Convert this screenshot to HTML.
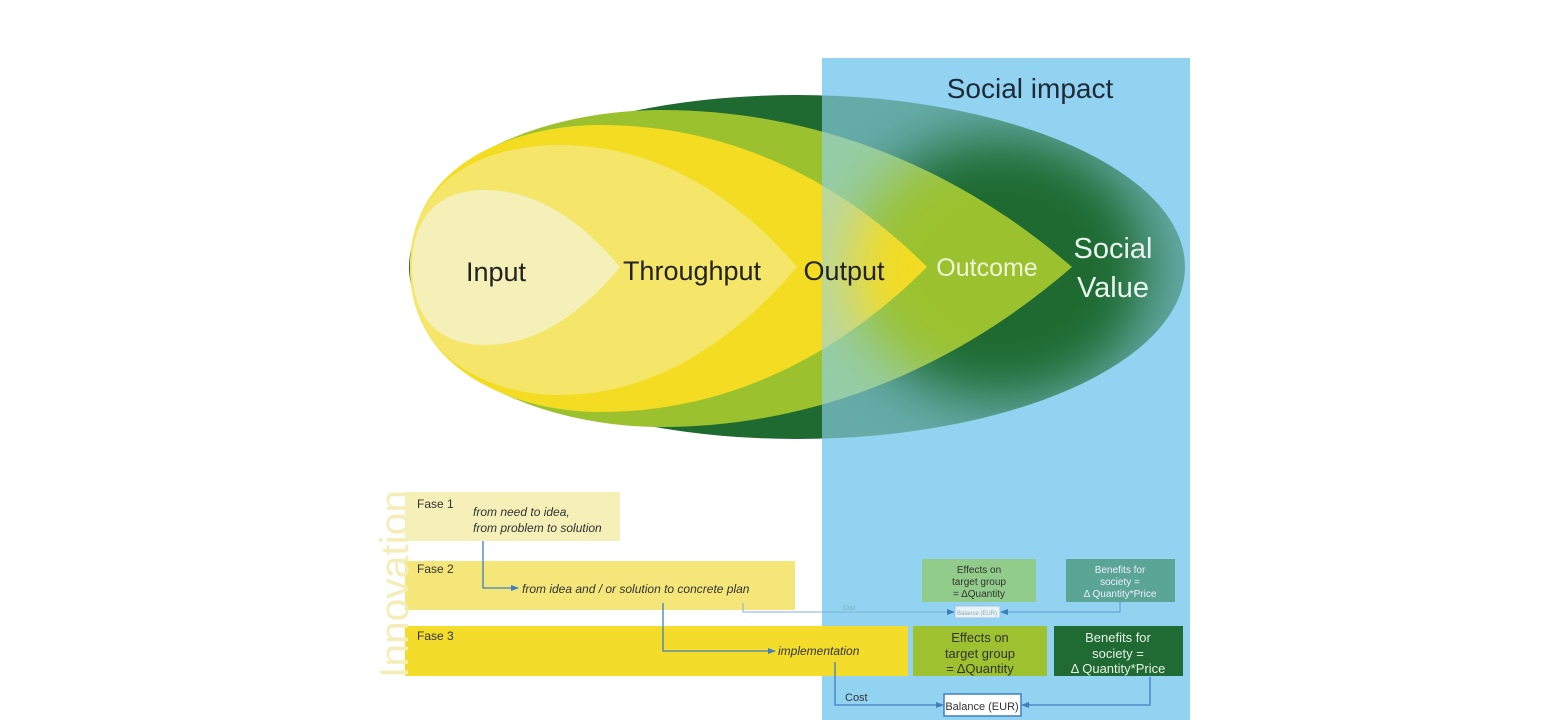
<!DOCTYPE html>
<html><head><meta charset="utf-8"><style>
html,body{margin:0;padding:0;background:#fff;}
svg{display:block;}
text{font-family:"Liberation Sans",sans-serif;}
</style></head><body>
<svg width="1560" height="720" viewBox="0 0 1560 720" xmlns="http://www.w3.org/2000/svg">
<defs>
<filter id="bl" x="-50%" y="-50%" width="200%" height="200%"><feGaussianBlur stdDeviation="28"/></filter>
<clipPath id="ec"><ellipse cx="797" cy="267" rx="388" ry="172"/></clipPath>
<mask id="m" maskUnits="userSpaceOnUse" x="0" y="0" width="1560" height="720">
<rect x="0" y="0" width="1560" height="720" fill="#fff"/>
<g clip-path="url(#ec)"><ellipse cx="1000" cy="268" rx="150" ry="130" fill="#000" filter="url(#bl)"/></g>
</mask>
<marker id="ar" markerWidth="8" markerHeight="8" refX="7" refY="4" orient="auto" markerUnits="userSpaceOnUse"><path d="M0,1 L8,4 L0,7 Z" fill="#3f7fc0"/></marker>
</defs>
<rect x="822" y="58" width="368" height="662" fill="#92d3f2"/>
<!-- ellipse layers -->
<ellipse cx="797" cy="267" rx="388" ry="172" fill="#1e6a30"/>
<path d="M410,267 C410,150 560,110 660,110 C820,110 960,170 1072,267 C960,364 820,427 660,427 C560,427 410,384 410,267 Z" fill="#9bc22e"/>
<path d="M410,267 C410,160 520,125 600,125 C730,125 840,180 927,267 C840,354 730,412 600,412 C520,412 410,374 410,267 Z" fill="#f3dc22"/>
<path d="M410,267 C410,175 490,145 560,145 C660,145 740,200 797,267 C740,334 660,395 560,395 C490,395 410,359 410,267 Z" fill="#f5e66a"/>
<path d="M412,267 C412,215 440,190 485,190 C540,190 585,225 620,267 C585,309 540,345 485,345 C440,345 412,319 412,267 Z" fill="#f5efb8"/>
<!-- blue overlay -->
<rect x="822" y="58" width="368" height="662" fill="#92d3f2" opacity="0.62" mask="url(#m)"/>
<text x="1030" y="98" font-size="28" fill="#1e2a36" text-anchor="middle">Social impact</text>
<text x="496" y="281" font-size="27" fill="#222" text-anchor="middle">Input</text>
<text x="692" y="280" font-size="27" fill="#222" text-anchor="middle">Throughput</text>
<text x="844" y="280" font-size="27" fill="#222" text-anchor="middle">Output</text>
<text x="987" y="276" font-size="25" fill="#eef6d8" text-anchor="middle">Outcome</text>
<text x="1113" y="258" font-size="29" fill="#e8f4ee" text-anchor="middle">Social</text>
<text x="1113" y="297" font-size="29" fill="#e8f4ee" text-anchor="middle">Value</text>
<!-- innovation -->
<rect x="405" y="492" width="215" height="49" fill="#f5efb8"/>
<rect x="405" y="561" width="390" height="49" fill="#f5e67a"/>
<rect x="405" y="626" width="503" height="50" fill="#f3dc2a"/>
<text transform="translate(408,678) rotate(-90)" font-size="40" fill="#f5edb8" textLength="188" lengthAdjust="spacingAndGlyphs">Innovation</text>
<g font-size="12" fill="#333">
<text x="417" y="508">Fase 1</text>
<text x="417" y="573">Fase 2</text>
<text x="417" y="640">Fase 3</text>
<text x="473" y="516" font-style="italic">from need to idea,</text>
<text x="473" y="532" font-style="italic">from problem to solution</text>
<text x="522" y="593" font-style="italic">from idea and / or solution to concrete plan</text>
<text x="778" y="655" font-style="italic">implementation</text>
</g>
<!-- right boxes -->
<rect x="922" y="559" width="114" height="43" fill="#92cc8a"/>
<rect x="1066" y="559" width="109" height="43" fill="#5aa596"/>
<g font-size="10" text-anchor="middle">
<text x="979" y="573" fill="#333">Effects on</text>
<text x="979" y="585" fill="#333">target group</text>
<text x="979" y="597" fill="#333">= ΔQuantity</text>
<text x="1120" y="573" fill="#eef">Benefits for</text>
<text x="1120" y="585" fill="#eef">society =</text>
<text x="1120" y="597" fill="#eef">Δ Quantity*Price</text>
</g>
<rect x="955" y="606" width="45" height="12" fill="#e8f4fa" stroke="#9cc3e0"/>
<text x="977" y="615" font-size="6" fill="#8aa" text-anchor="middle">Balance (EUR)</text>
<text x="843" y="610" font-size="6" fill="#7aa">Cost</text>
<rect x="913" y="626" width="134" height="50" fill="#9dc12f"/>
<rect x="1054" y="626" width="129" height="50" fill="#1f6b33"/>
<g font-size="13" text-anchor="middle">
<text x="980" y="642" fill="#333">Effects on</text>
<text x="980" y="658" fill="#333">target group</text>
<text x="980" y="673" fill="#333">= ΔQuantity</text>
<text x="1118" y="642" fill="#e6f0e6">Benefits for</text>
<text x="1118" y="658" fill="#e6f0e6">society =</text>
<text x="1118" y="673" fill="#e6f0e6">Δ Quantity*Price</text>
</g>
<rect x="944" y="694" width="77" height="22" fill="#fff" stroke="#3f7fc0" stroke-width="1.5"/>
<text x="982" y="710" font-size="11" fill="#333" text-anchor="middle">Balance (EUR)</text>
<text x="845" y="701" font-size="11" fill="#333">Cost</text>
<!-- connectors -->
<g fill="none" stroke="#3f7fc0" stroke-width="1.3">
<path d="M483,541 V588 H518" marker-end="url(#ar)"/>
<path d="M663,603 V651 H775" marker-end="url(#ar)"/>
<path d="M835,662 V705 H943" marker-end="url(#ar)"/>
<path d="M1150,677 V705 H1022" marker-end="url(#ar)"/>
<path d="M743,603 V612 H954" stroke="#7fb0d8" stroke-width="1" marker-end="url(#ar)"/>
<path d="M1120,602 V612 H1001" stroke="#5f95cc" stroke-width="1" marker-end="url(#ar)"/>
</g>
</svg>
</body></html>
